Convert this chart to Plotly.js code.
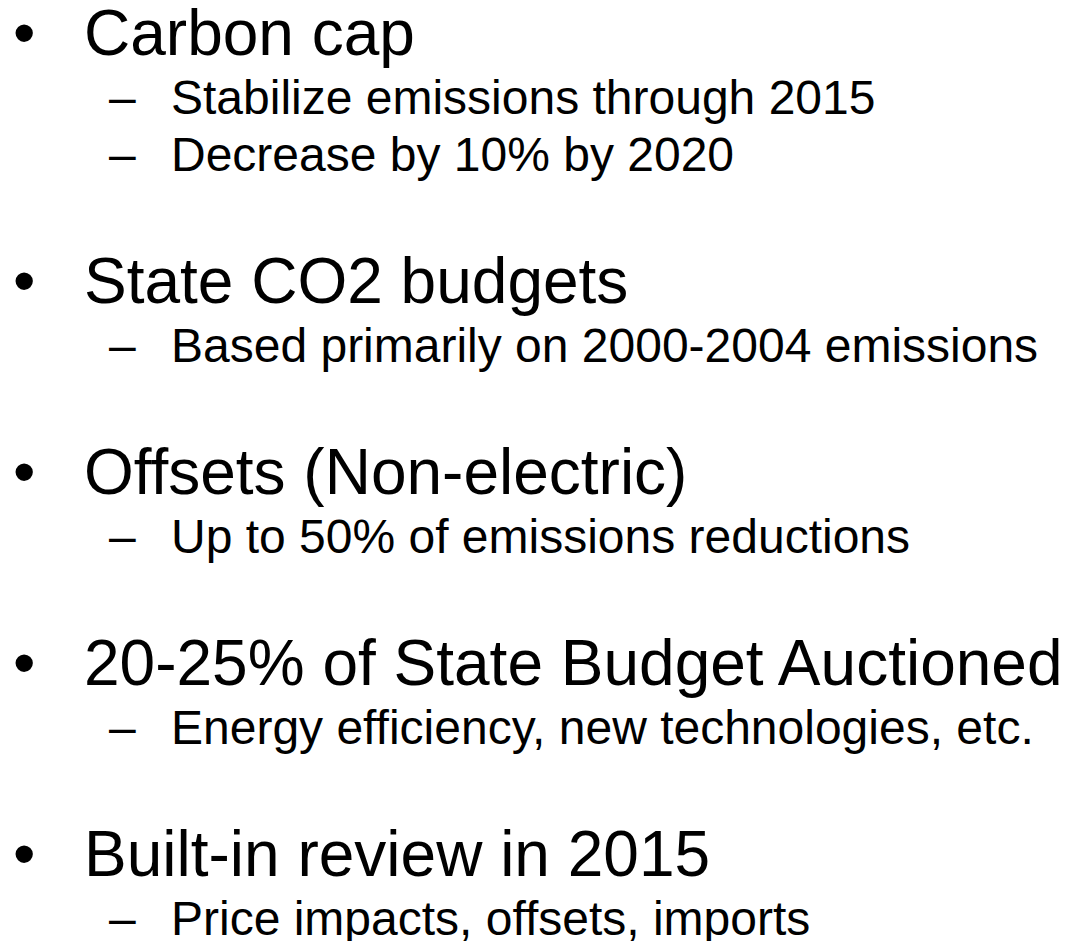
<!DOCTYPE html>
<html>
<head>
<meta charset="utf-8">
<script src="https://cdn.plot.ly/plotly-3.0.1.min.js"></script>
<style>
  html, body { margin: 0; padding: 0; background: #ffffff; }
  #plot { width: 1071px; height: 941px; }
</style>
</head>
<body>
<div id="plot"></div>
<script>
// slide content
let headings = [
  "Carbon cap",
  "State CO2 budgets",
  "Offsets (Non-electric)",
  "20-25% of State Budget Auctioned",
  "Built-in review in 2015"
];
let subitems = [
  ["Stabilize emissions through 2015", "Decrease by 10% by 2020"],
  ["Based primarily on 2000-2004 emissions"],
  ["Up to 50% of emissions reductions"],
  ["Energy efficiency, new technologies, etc."],
  ["Price impacts, offsets, imports"]
];

const W = 1071, H = 941;
const mainSize = 64, subSize = 48;
const font = "Liberation Sans, Arial, sans-serif";

// baseline -> annotation center (ascent .905, descent .212)
function mid(base, size){ return base - 0.3465*size; }

function note(x, y, txt, size){
  return {
    x: x, y: y, xref: "x", yref: "y",
    text: txt, showarrow: false,
    xanchor: "left", yanchor: "middle",
    borderpad: 0, borderwidth: 0,
    font: { family: font, size: size, color: "#000000" }
  };
}

let annotations = [];
let base = 55;
for (let i = 0; i < headings.length; i++){
  annotations.push(note(13, mid(base, mainSize), "\u2022", mainSize));
  annotations.push(note(84, mid(base, mainSize), headings[i], mainSize));
  let sb = base + 59;
  for (let j = 0; j < subitems[i].length; j++){
    annotations.push(note(109, mid(sb, subSize), "\u2013", subSize));
    annotations.push(note(171, mid(sb, subSize), subitems[i][j], subSize));
    if (j < subitems[i].length - 1) sb += 57;
  }
  base = sb + 132;
}

const layout = {
  width: W, height: H,
  margin: { l: 0, r: 0, t: 0, b: 0 },
  paper_bgcolor: "#ffffff",
  plot_bgcolor: "#ffffff",
  xaxis: { range: [0, W], visible: false, fixedrange: true },
  yaxis: { range: [H, 0], visible: false, fixedrange: true },
  showlegend: false,
  annotations: annotations
};

Plotly.newPlot("plot", [], layout, { staticPlot: true, displayModeBar: false });
</script>
</body>
</html>
